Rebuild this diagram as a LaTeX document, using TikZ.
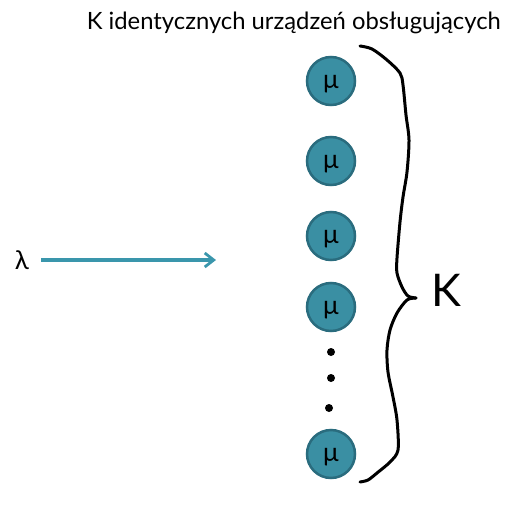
\documentclass[tikz,border=0pt]{standalone}
\usepackage{fontspec}
\setmainfont{Lato}
\usetikzlibrary{arrows.meta}
\definecolor{tealfill}{HTML}{3A8FA3}
\definecolor{tealedge}{HTML}{2A6C7E}
\definecolor{tealline}{HTML}{3A96AC}
\begin{document}
\begin{tikzpicture}[x=1pt,y=-1pt,
  server/.style={circle,draw=tealedge,fill=tealfill,line width=2.5pt,minimum size=48pt,inner sep=0pt,text height=18pt,text depth=3pt,font=\fontsize{26}{26}\selectfont},
  dotnode/.style={circle,fill=black,inner sep=0pt,minimum size=8pt},
  flow/.style={draw=tealline,line width=3.2pt,-{Straight Barb[length=9pt,width=14pt,line width=2.8pt]}},
  bracepath/.style={draw=black,line width=3pt,line cap=round,line join=round}]
\useasboundingbox (0,0) rectangle (504,519);
\node[anchor=base east,inner sep=0pt,font=\fontsize{23.8}{23.8}\selectfont] (title) at (501,30) {K identycznych urządzeń obsługujących};
\node[server] (s1) at (331,81) {μ};
\node[server] (s2) at (331,161) {μ};
\node[server] (s3) at (331,236) {μ};
\node[server] (s4) at (331,307) {μ};
\node[dotnode] (d1) at (331,352) {};
\node[dotnode] (d2) at (331,378) {};
\node[dotnode] (d3) at (329,408) {};
\node[server] (s5) at (331,454) {μ};
\node[inner sep=0pt,font=\fontsize{26}{26}\selectfont] (lam) at (22,260) {λ};
\coordinate (arrStart) at (41,260);
\coordinate (arrEnd) at (216,260);
\draw[flow] (arrStart) -- (arrEnd);
\draw[bracepath] plot[smooth,tension=0.5] coordinates {(360,46) (372,49) (387,60) (400,73) (403,85) (406,115) (409,140) (407,172) (403,197) (400,222) (397,258) (397,273) (402,287) (408,296) (416,298)};
\draw[bracepath] plot[smooth,tension=0.5] coordinates {(416,298) (407,300) (397,313) (390,330) (387,350) (388,372) (393,397) (397,420) (398,450) (390,462) (377,473) (368,480) (360,482)};
\node[inner sep=0pt,anchor=base west,font=\fontsize{45}{45}\selectfont] (K) at (431,306) {K};
\end{tikzpicture}
\end{document}
